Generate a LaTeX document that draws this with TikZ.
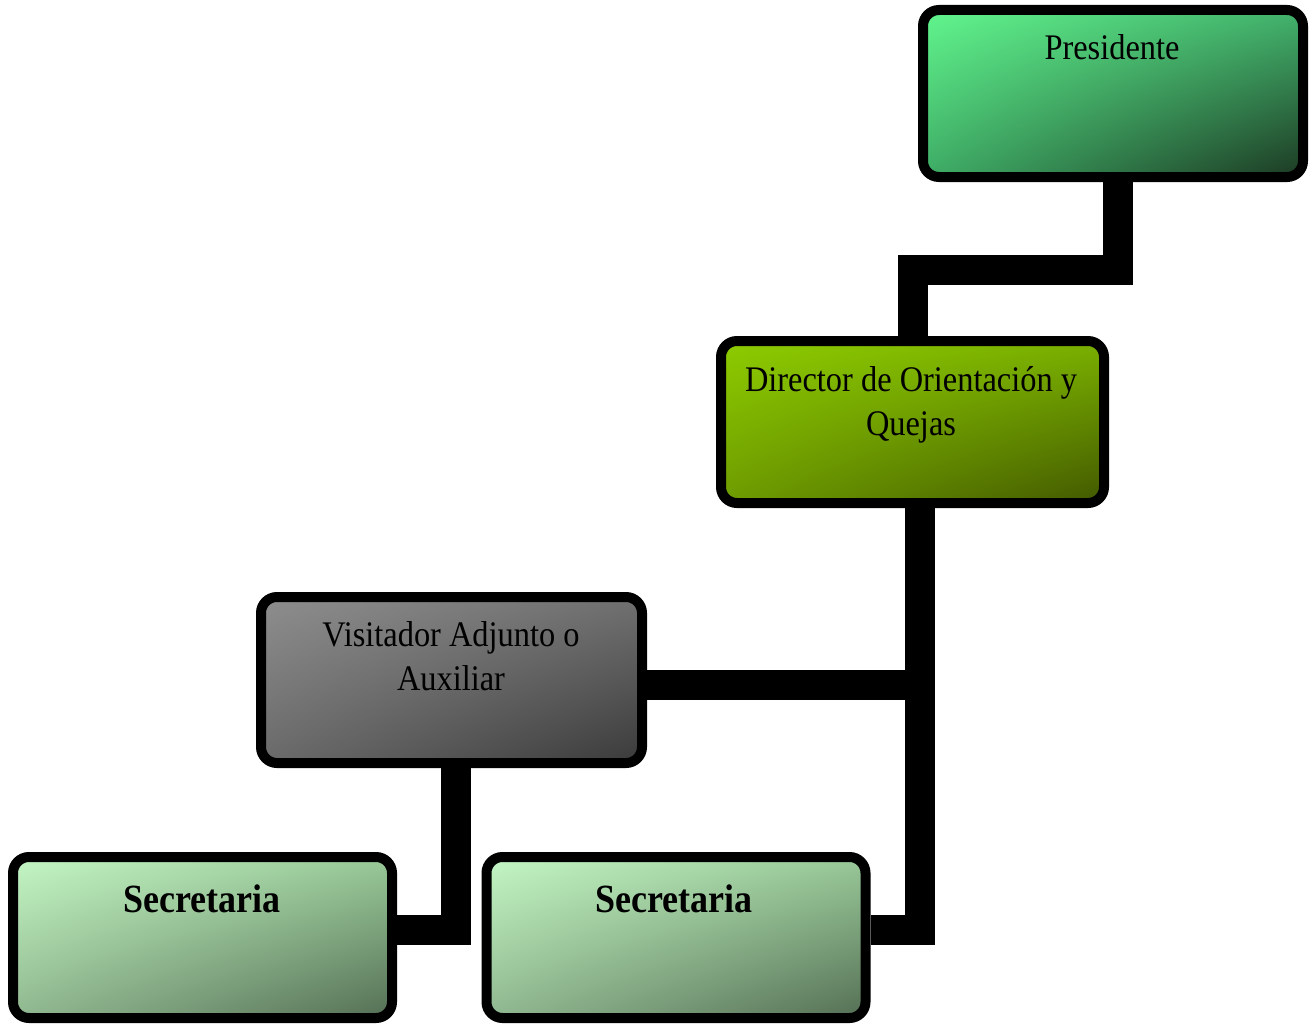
\documentclass[tikz,border=0pt]{standalone}
\usepackage{fontspec}
\setmainfont{Liberation Serif}[FakeStretch=0.9]
\usetikzlibrary{backgrounds,shadings}
\begin{document}
\begin{tikzpicture}[x=1pt,y=-1pt,
  box/.style={rectangle, rounded corners=16pt, draw=black, line width=10pt, inner sep=0pt},
  presbox/.style={box, minimum width=380pt, minimum height=167pt,
    upper left={rgb,255:red,98;green,246;blue,142}, upper right={rgb,255:red,66;green,178;blue,108},
    lower left={rgb,255:red,62;green,172;blue,102}, lower right={rgb,255:red,28;green,56;blue,34}},
  dirbox/.style={box, minimum width=383pt, minimum height=162pt,
    upper left={rgb,255:red,142;green,204;blue,0}, upper right={rgb,255:red,122;green,176;blue,0},
    lower left={rgb,255:red,110;green,156;blue,0}, lower right={rgb,255:red,66;green,88;blue,0}},
  visbox/.style={box, minimum width=381pt, minimum height=166pt,
    upper left={rgb,255:red,142;green,142;blue,142}, upper right={rgb,255:red,112;green,112;blue,112},
    lower left={rgb,255:red,106;green,106;blue,106}, lower right={rgb,255:red,58;green,58;blue,58}},
  secbox/.style={box, minimum width=379pt, minimum height=161pt,
    upper left={rgb,255:red,196;green,246;blue,196}, upper right={rgb,255:red,152;green,200;blue,152},
    lower left={rgb,255:red,144;green,184;blue,144}, lower right={rgb,255:red,84;green,110;blue,84}},
  label/.style={anchor=base, inner sep=0pt, align=center, font=\fontsize{36}{44}\selectfont},
  boldlabel/.style={label, font=\fontsize{40}{46}\selectfont\bfseries},
  conn/.style={draw=black, line width=30pt, line join=miter, line cap=butt}]

\useasboundingbox (0,0) rectangle (1310,1025);

% boxes
\node[presbox] (pres) at (1113,93.5) {};
\node[dirbox]  (dir)  at (912.5,422) {};
\node[visbox]  (vis)  at (451.5,680) {};
\node[secbox]  (sec1) at (202.5,937.5) {};
\node[secbox]  (sec2) at (676,937.5) {};

% labels (base anchor sits on the last line)
\node[label] (tpres) at (1112,60) {Presidente};
\node[label] (tdir)  at (911,435) {Director de Orientación y\\Quejas};
\node[label] (tvis)  at (451,690) {Visitador Adjunto o\\Auxiliar};
\node[boldlabel] (tsec1) at (202,912) {Secretaria};
\node[boldlabel] (tsec2) at (674,912) {Secretaria};

% connector junctions
\coordinate (pj1) at (1118,270);
\coordinate (pj2) at (913,270);
\coordinate (dv) at (920,930);
\coordinate (dh) at (920,685);
\coordinate (vv) at (456,930);

\begin{scope}[on background layer]
  \draw[conn] (pres.south -| pj1) -- (pj1) -- (pj2) -- (dir.north -| pj2);
  \draw[conn] (dir.south -| dv) -- (dv) -- (sec2.east |- dv);
  \draw[conn] (vis.east |- dh) -- (dh);
  \draw[conn] (vis.south -| vv) -- (vv) -- (sec1.east |- vv);
\end{scope}
\end{tikzpicture}
\end{document}
